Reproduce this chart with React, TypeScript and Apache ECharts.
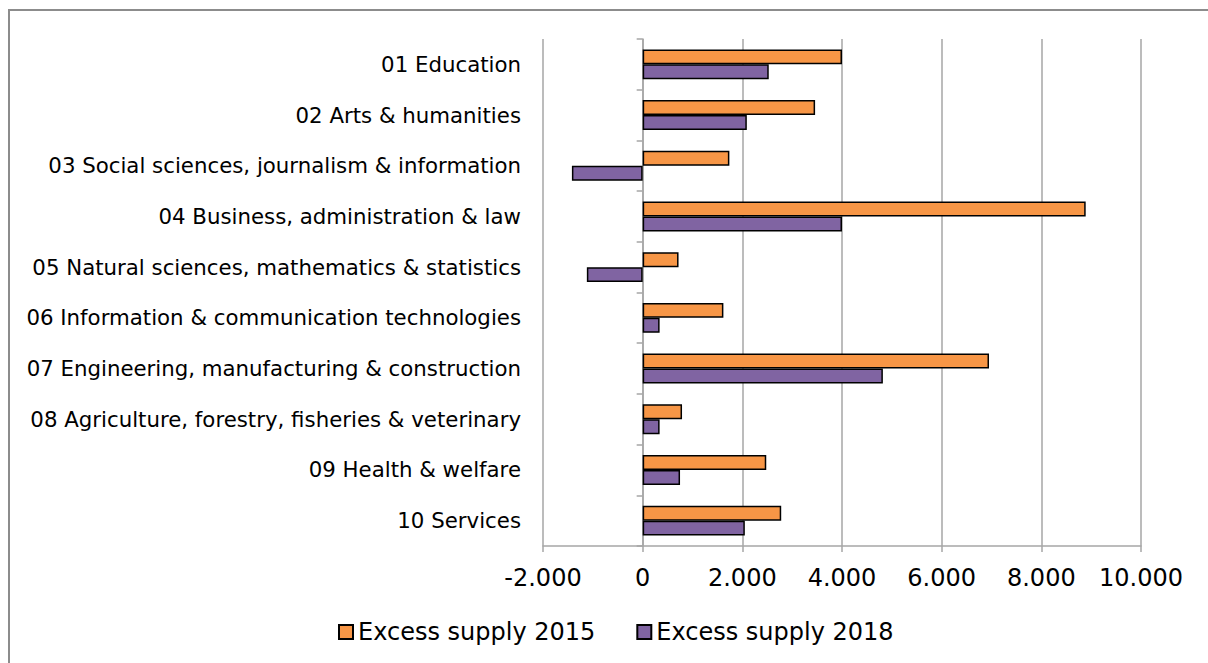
import React, { useEffect, useRef } from "react";
import * as echarts from "echarts";

const categories = [
  "01 Education",
  "02 Arts & humanities",
  "03 Social sciences, journalism & information",
  "04 Business, administration & law",
  "05 Natural sciences, mathematics & statistics",
  "06 Information & communication technologies",
  "07 Engineering, manufacturing & construction",
  "08 Agriculture, forestry, fisheries & veterinary",
  "09 Health & welfare",
  "10 Services",
];
const supply2015 = [4000, 3460, 1740, 8890, 720, 1620, 6950, 790, 2480, 2780];
const supply2018 = [2530, 2090, -1420, 4000, -1120, 340, 4820, 340, 750, 2050];
const seriesNames = ["Excess supply 2015", "Excess supply 2018"];
const xMin = -2000;
const xMax = 10000;
const xStep = 2000;

const FONT = "'DejaVu Sans', Verdana, sans-serif";

function fmt(v: number): string {
  const neg = v < 0;
  const s = String(Math.abs(v)).replace(/\B(?=(\d{3})+(?!\d))/g, ".");
  return (neg ? "-" : "") + s;
}

export default function App() {
  const ref = useRef<HTMLDivElement>(null);
  useEffect(() => {
    if (!ref.current) return;
    const chart = echarts.init(ref.current, undefined, { renderer: "svg" });
    const grid = "#a6a6a6";
    chart.setOption({
      animation: false,
      backgroundColor: "#ffffff",
      textStyle: { fontFamily: FONT },
      graphic: [
        {
          type: "line",
          shape: { x1: 9, y1: 10, x2: 1208, y2: 10 },
          style: { stroke: "#8c8c8c", lineWidth: 2 },
          silent: true,
        },
        {
          type: "line",
          shape: { x1: 9, y1: 9, x2: 9, y2: 663 },
          style: { stroke: "#8c8c8c", lineWidth: 2 },
          silent: true,
        },
      ],
      grid: { left: 543, top: 39, right: 67, bottom: 117, containLabel: false },
      legend: {
        left: 333,
        top: 615,
        itemWidth: 14,
        itemHeight: 14,
        itemGap: 41,
        icon: "rect",
        textStyle: { fontFamily: FONT, fontSize: 24, color: "#000" },
        data: seriesNames,
      },
      xAxis: {
        type: "value",
        min: xMin,
        max: xMax,
        interval: xStep,
        axisLine: { show: true, onZero: false, lineStyle: { color: grid, width: 1.5 } },
        axisTick: { show: true, length: 6, lineStyle: { color: grid, width: 1.5 } },
        splitLine: { show: true, lineStyle: { color: grid, width: 1.5 } },
        axisLabel: {
          fontFamily: FONT,
          fontSize: 24,
          color: "#000",
          margin: 20,
          formatter: (v: number) => fmt(v),
        },
      },
      yAxis: [
        {
          type: "category",
          data: categories,
          inverse: true,
          position: "left",
          axisLine: { show: false, onZero: false },
          axisTick: { show: false },
          axisLabel: { fontFamily: FONT, fontSize: 21.3, color: "#000", margin: 22 },
        },
        {
          type: "category",
          data: categories,
          inverse: true,
          position: "left",
          axisLine: { show: true, onZero: true, lineStyle: { color: grid, width: 1.5 } },
          axisTick: { show: true, length: 6, lineStyle: { color: grid, width: 1.5 } },
          axisLabel: { show: false },
        },
      ],
      series: [
        {
          name: seriesNames[0],
          type: "bar",
          yAxisIndex: 0,
          data: supply2015,
          barGap: "0%",
          barCategoryGap: "41%",
          itemStyle: { color: "#f79646", borderColor: "#000", borderWidth: 1.5 },
        },
        {
          name: seriesNames[1],
          type: "bar",
          yAxisIndex: 0,
          data: supply2018,
          barGap: "0%",
          barCategoryGap: "41%",
          itemStyle: { color: "#8064a2", borderColor: "#000", borderWidth: 1.5 },
        },
      ],
    });
    return () => chart.dispose();
  }, []);
  return (
    <div
      ref={ref}
      style={{ position: "fixed", left: 0, top: 0, width: 1208, height: 663 }}
    />
  );
}
